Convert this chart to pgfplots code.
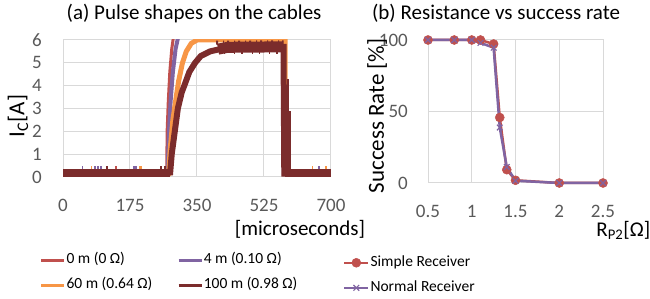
\documentclass[border=0pt]{standalone}
\usepackage{fontspec}
\setmainfont{Carlito}
\usepackage{pgfplots}
\pgfplotsset{compat=1.18}
\definecolor{cred}{HTML}{C0504D}
\definecolor{cpurple}{HTML}{8064A2}
\definecolor{corange}{HTML}{F79646}
\definecolor{cbrown}{HTML}{7B2C2C}
\definecolor{gridc}{HTML}{D9D9D9}
\definecolor{tickc}{HTML}{595959}
\pgfplotsset{common/.style={
  scale only axis, anchor=south west,
  axis line style={draw=gridc, line width=1pt},
  grid=major, grid style={draw=gridc, line width=1pt},
  major tick length=0pt,
  tick label style={font=\fontsize{19}{19}\selectfont, text=tickc},
  /pgf/number format/assume math mode=true,
  xticklabel style={anchor=center, yshift=-28pt},
  legend cell align=left,
}}
\begin{document}
\begin{tikzpicture}
\useasboundingbox (0pt,0pt) rectangle (650pt,299pt);
% ---------------- (a)
\begin{axis}[common,
  at={(63pt,122pt)}, width=268pt, height=137pt,
  xmin=0, xmax=700, ymin=0, ymax=6,
  xtick={0,175,350,525,700}, xticklabels={0,175,350,525,700},
  ytick={0,1,2,3,4,5,6}, yticklabels={0,1,2,3,4,5,6},
  yticklabel style={anchor=east, inner sep=0pt, xshift=-21pt},
  title={(a) Pulse shapes on the cables},
  title style={at={(axis description cs:0.489,1.146)}, anchor=base, yshift=-6pt, font=\fontsize{21}{21}\selectfont},
  xlabel={[microseconds]},
  xlabel style={at={(axis description cs:0.884,-0.380)}, anchor=center, font=\fontsize{21}{21}\selectfont},
  ylabel={I\textsubscript{C}[A]},
  ylabel style={at={(axis description cs:-0.168,0.445)}, anchor=center, font=\fontsize{23}{23}\selectfont},
  legend style={at={(axis description cs:-0.0858,-0.552)}, anchor=north west, draw=none, fill=none, inner sep=0pt,
    font=\fontsize{15.5}{15.5}\selectfont, row sep=10pt,
    nodes={inner sep=1pt, text height=10pt, text depth=3pt},
    /tikz/every even column/.append style={column sep=24pt}},
  legend columns=2,
  legend image code/.code={\draw[#1, line width=2.4pt] (0pt,0pt) -- (23pt,0pt);},
]
% baseline spikes
\addplot[forget plot, ycomb, cpurple, line width=1.5pt] coordinates {(51,0.5)(84,0.5)(91,0.5)(99,0.5)(185,0.5)(191,0.5)(669,0.5)};
\addplot[forget plot, ycomb, corange, line width=1.5pt] coordinates {(75,0.5)(201,0.5)(205,0.5)(652,0.5)(687,0.5)};
\addplot[forget plot, ycomb, cred, line width=1.5pt] coordinates {(138,0.5)};
% main series
\addplot[cred, line width=3pt] coordinates {(0,0.15)(271,0.15)(272,2.0)(275,3.3)(279,4.6)(284,5.6)(290,6.3)(576,6.3)(577,0.15)(700,0.15)};
\addlegendentry{0 m (0 Ω)}
\addplot[cpurple, line width=4pt] coordinates {(0,0.15)(273,0.15)(277,2.0)(281,3.3)(287,4.6)(294,5.6)(303,6.3)(576,6.3)(577,0.15)(700,0.15)};
\addlegendentry{4 m (0.10 Ω)}
\addplot[corange, line width=5pt] coordinates {(0,0.15)(276,0.15)(280,1.2)(287,2.5)(294,3.3)(302,4.2)(312,5.0)(322,5.5)(335,5.85)(350,6.0)(580,6.0)(581,0.15)(700,0.15)};
\addlegendentry{60 m (0.64 Ω)}
\addplot[cbrown, line width=6pt] coordinates {(0,0.15)(280,0.2)(284,1.0)(292,2.0)(300,3.0)(310,3.7)(319,4.1)(330,4.6)(345,5.0)(360,5.3)(384,5.5)(410,5.6)(440,5.7)(576,5.7)(578,0.15)(700,0.15)};
\addlegendentry{100 m (0.98 Ω)}
% brown noise bands
\addplot[forget plot, cbrown, line width=9pt] coordinates {(0,0.15)(280,0.15)};
\addplot[forget plot, cbrown, line width=9pt] coordinates {(579,0.15)(700,0.15)};
\addplot[forget plot, cbrown, line width=3pt, dash pattern=on 2pt off 4pt on 1pt off 7pt] coordinates {(0,0.3)(280,0.3)};
\addplot[forget plot, cbrown, line width=11pt] coordinates {(405,5.6)(430,5.68)(575,5.7)};
\addplot[forget plot, cbrown, line width=4pt, dash pattern=on 2pt off 5pt on 1pt off 3pt] coordinates {(400,5.88)(576,5.9)};
\addplot[forget plot, cbrown, line width=4pt, dash pattern=on 1.5pt off 9pt on 1pt off 6pt] coordinates {(420,5.47)(576,5.47)};
\addplot[forget plot, ycomb, cbrown, line width=2pt] coordinates {(114,0.5)(256,0.5)(266,0.5)(587,4.3)(592,2.9)};
\end{axis}
% ---------------- (b)
\begin{axis}[common,
  at={(428pt,116pt)}, width=175pt, height=143pt,
  xmin=0.5, xmax=2.5, ymin=0, ymax=100, clip=false,
  xtick={0.5,1,1.5,2,2.5}, xticklabels={0.5,1,1.5,2,2.5},
  ytick={0,50,100}, yticklabels={0,50,100},
  yticklabel style={anchor=east, inner sep=0pt, xshift=-20pt},
  title={(b) Resistance vs success rate},
  title style={at={(axis description cs:0.389,1.140)}, anchor=base, yshift=-6pt, font=\fontsize{21}{21}\selectfont},
  xlabel={R\textsubscript{P2}[Ω]},
  xlabel style={at={(axis description cs:1.116,-0.33)}, anchor=center, font=\fontsize{21}{21}\selectfont},
  ylabel={Success Rate [\%]},
  ylabel style={at={(axis description cs:-0.291,0.469)}, anchor=center, font=\fontsize{23}{23}\selectfont},
  legend style={at={(axis description cs:-0.486,-0.504)}, anchor=north west, draw=none, fill=none, inner sep=0pt,
    font=\fontsize{15.5}{15.5}\selectfont, row sep=10pt,
    nodes={inner sep=1pt, text height=10pt, text depth=3pt}},
  legend image code/.code={\draw[mark repeat=2, mark phase=2, #1, line width=2.4pt] plot coordinates {(0pt,0pt)(12pt,0pt)(24pt,0pt)};},
]
\addplot[cred, line width=2.5pt, mark=*, mark size=4.5pt, mark options={solid, fill=cred, line width=0.5pt}] coordinates {
(0.5,100)(0.8,100)(1.0,100)(1.1,100)(1.25,97.2)(1.32,45.8)(1.4,9.3)(1.5,1.9)(2.0,0)(2.5,0)};
\addlegendentry{Simple Receiver}
\addplot[cpurple, line width=2.5pt, mark=x, mark size=4pt, mark options={solid, line width=1.2pt}] coordinates {
(0.5,100)(0.8,100)(1.0,100)(1.1,98)(1.25,94.6)(1.32,38.8)(1.4,11.2)(1.5,1.6)(2.0,0)(2.5,0)};
\addlegendentry{Normal Receiver}
\end{axis}
\end{tikzpicture}
\end{document}
